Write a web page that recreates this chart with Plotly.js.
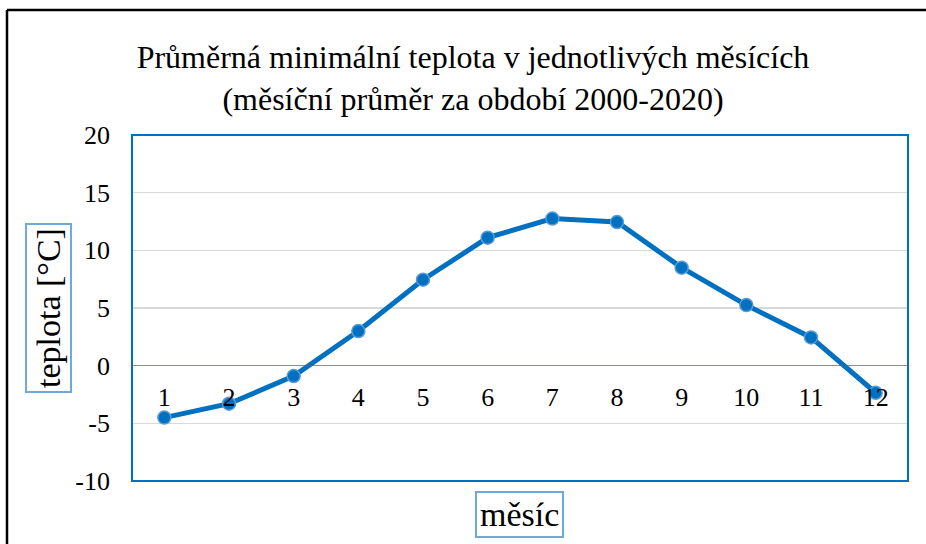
<!DOCTYPE html>
<html>
<head>
<meta charset="utf-8">
<script src="https://cdn.plot.ly/plotly-3.0.1.min.js"></script>
<style>
html,body{margin:0;padding:0;background:#fff;}
#chart{width:926px;height:544px;}
</style>
</head>
<body>
<div id="chart"></div>
<script>
// Data
const months = ['1','2','3','4','5','6','7','8','9','10','11','12'];
const minTemp = [-4.5, -3.3, -0.9, 3.0, 7.45, 11.1, 12.75, 12.45, 8.5, 5.25, 2.45, -2.35];
const yTicks = [-10, -5, 0, 5, 10, 15, 20];
const titleLines = ['Průměrná minimální teplota v jednotlivých měsících', '(měsíční průměr za období 2000-2020)'];
const xTitle = 'měsíc';
const yTitle = 'teplota [°C]';

const FONT = '"Liberation Serif", "Times New Roman", serif';
const L = 132, R = 18, T = 135, B = 63;
const W = 926, H = 544;
const pw = W - L - R, ph = H - T - B;
const px = v => (v - L) / pw;
const py = v => (H - B - v) / ph;

const trace = {
  x: months,
  y: minTemp,
  type: 'scatter',
  mode: 'lines+markers',
  line: {color: '#0070C0', width: 5},
  marker: {size: 13, color: '#0070C0', line: {color: '#5B9BD5', width: 1.5}},
  hoverinfo: 'x+y',
  cliponaxis: false
};

const layout = {
  width: W, height: H,
  margin: {l: L, r: R, t: T, b: B},
  paper_bgcolor: '#ffffff',
  plot_bgcolor: '#ffffff',
  showlegend: false,
  font: {family: FONT, color: '#000000', size: 26},
  title: {
    text: titleLines.join('<br>'),
    font: {family: FONT, size: 32, color: '#000000'},
    x: 473 / W, xref: 'container', xanchor: 'center',
    y: 1 - 68 / H, yref: 'container', yanchor: 'middle'
  },
  xaxis: {
    type: 'category',
    range: [-0.5, 11.5],
    anchor: 'free',
    position: 10 / 30,
    showline: false,
    showgrid: false,
    zeroline: false,
    ticks: '',
    ticklabelstandoff: 13,
    tickfont: {family: FONT, size: 26, color: '#000000'}
  },
  yaxis: {
    range: [-10, 20],
    tickvals: yTicks,
    ticktext: yTicks.map(String),
    showgrid: true,
    gridcolor: '#d9d9d9',
    gridwidth: 1.5,
    zeroline: true,
    zerolinecolor: '#5B9BD5',
    zerolinewidth: 1.5,
    showline: false,
    ticks: '',
    ticklabelstandoff: 21,
    tickfont: {family: FONT, size: 26, color: '#000000'}
  },
  shapes: [
    {type: 'rect', xref: 'paper', yref: 'paper', x0: 0, x1: 1, y0: 0, y1: 1,
     line: {color: '#0070C0', width: 2}, layer: 'above'},
    {type: 'line', xref: 'paper', yref: 'paper', x0: px(7), x1: px(940), y0: py(10), y1: py(10),
     line: {color: '#000000', width: 2.5}},
    {type: 'line', xref: 'paper', yref: 'paper', x0: px(7), x1: px(7), y0: py(10), y1: py(560),
     line: {color: '#000000', width: 2.5}}
  ],
  annotations: [
    {text: xTitle, xref: 'paper', yref: 'paper', x: px(519), y: py(514),
     xanchor: 'center', yanchor: 'middle', showarrow: false,
     font: {family: FONT, size: 34, color: '#000000'},
     bordercolor: '#6FA8DC', borderwidth: 2, borderpad: 3, bgcolor: '#ffffff'},
    {text: yTitle, xref: 'paper', yref: 'paper', x: px(48), y: py(308),
     xanchor: 'center', yanchor: 'middle', showarrow: false, textangle: -90,
     font: {family: FONT, size: 34, color: '#000000'},
     bordercolor: '#6FA8DC', borderwidth: 2, borderpad: 3, bgcolor: '#ffffff'}
  ]
};

Plotly.newPlot('chart', [trace], layout, {displayModeBar: false, staticPlot: true});
</script>
</body>
</html>
